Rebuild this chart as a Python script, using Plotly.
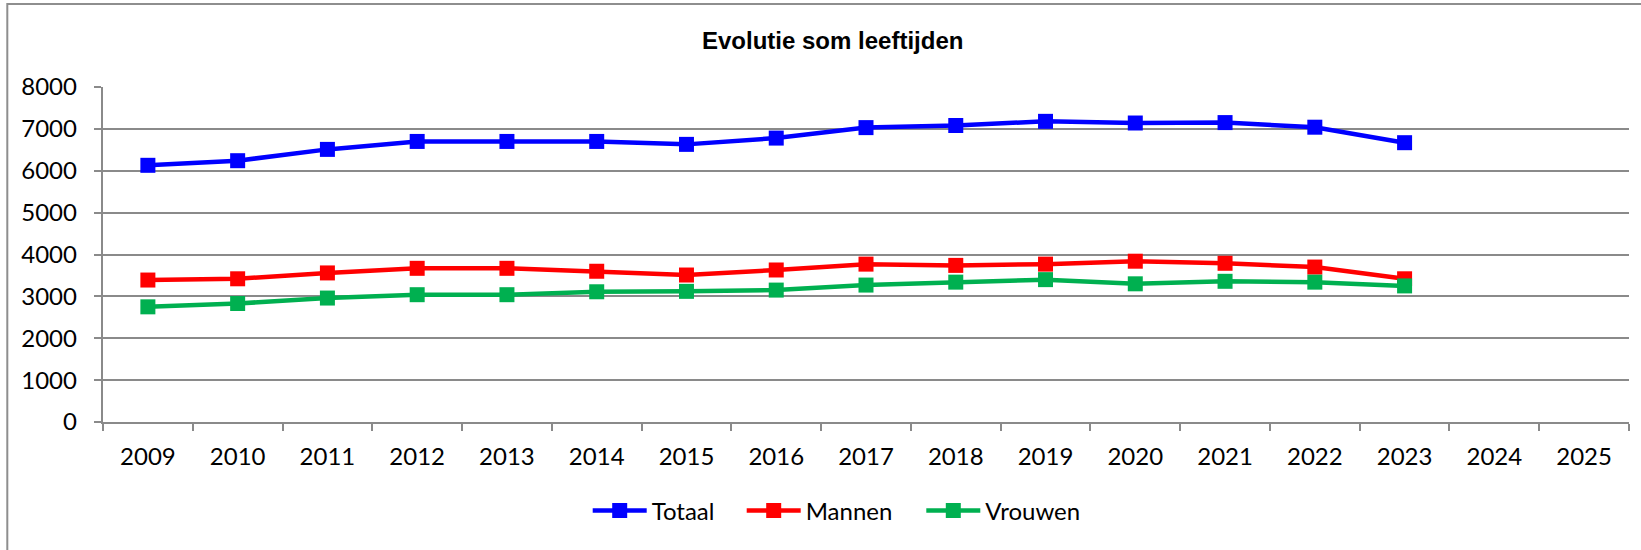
import plotly.graph_objects as go

years = [str(y) for y in range(2009, 2026)]
data_years = [str(y) for y in range(2009, 2024)]
totaal = [6130, 6240, 6510, 6700, 6700, 6700, 6630, 6780, 7030, 7080, 7180, 7140, 7150, 7040, 6670]
mannen = [3390, 3420, 3560, 3670, 3670, 3600, 3510, 3630, 3770, 3740, 3770, 3840, 3790, 3700, 3420]
vrouwen = [2750, 2830, 2960, 3040, 3040, 3110, 3120, 3150, 3270, 3340, 3400, 3300, 3360, 3340, 3250]

series = [("Totaal", totaal, "#0000FF", "legend"),
          ("Mannen", mannen, "#FF0000", "legend2"),
          ("Vrouwen", vrouwen, "#00B050", "legend3")]

TICK_FONT = dict(family="Lato, 'Open Sans', sans-serif", size=24, color="#000000")
GRID = "#8a8a8a"

fig = go.Figure()
for name, vals, col, lg in series:
    fig.add_trace(go.Scatter(
        x=data_years, y=vals, name=name, mode="lines+markers", legend=lg,
        line=dict(color=col, width=4.5),
        marker=dict(symbol="square", size=15, color=col),
    ))

L, W = 103, 1526
OFF = 5
def leg(px):
    return dict(orientation="h", x=(px - OFF - L) / W, xanchor="left", y=-0.2657, yanchor="middle",
                font=TICK_FONT, itemwidth=54, bgcolor="rgba(0,0,0,0)")

fig.update_layout(
    width=1641, height=550,
    margin=dict(l=103, r=12, t=87, b=128, autoexpand=False),
    paper_bgcolor="white", plot_bgcolor="white",
    title=dict(text="<b>Evolutie som leeftijden</b>",
               font=dict(family="'Liberation Sans', Arial, sans-serif", size=24, color="#000000"),
               x=832.7 / 1641, xanchor="center", xref="container",
               y=1 - 40.5 / 550, yanchor="middle"),
    showlegend=True,
    legend=leg(592.7), legend2=leg(746.7), legend3=leg(926.3),
    xaxis=dict(type="category", categoryorder="array", categoryarray=years,
               range=[-0.5, 16.5], tickson="boundaries", ticks="outside", ticklen=7.5,
               tickwidth=1.5, tickcolor=GRID, showgrid=False, showline=True,
               linecolor=GRID, linewidth=1.5, tickfont=TICK_FONT, ticklabelstandoff=12,
               fixedrange=True),
    yaxis=dict(range=[0, 8000], dtick=1000, tick0=0, ticks="outside", ticklen=7.5,
               tickwidth=1.5, tickcolor=GRID, showgrid=True, gridcolor=GRID, gridwidth=1.5,
               showline=True, linecolor=GRID, linewidth=1.5, zeroline=False,
               tickfont=TICK_FONT, ticklabelstandoff=12, fixedrange=True),
    shapes=[dict(type="rect", xref="paper", yref="paper",
                 x0=(7.3 - 103) / 1526, x1=1.2, y0=-1.0, y1=(423 - 5) / 335,
                 line=dict(color="#8e8e8e", width=2), fillcolor="rgba(0,0,0,0)", layer="below")],
)

fig.write_html("out.html", config={"displayModeBar": False},
               post_script="document.body.style.margin='0';document.body.style.overflow='hidden';")
